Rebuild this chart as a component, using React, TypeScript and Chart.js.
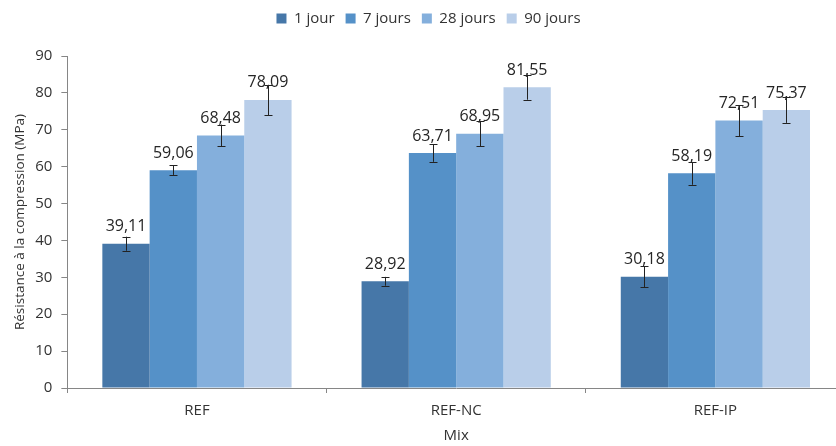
import React, { useEffect, useRef } from "react";
import { Chart, registerables } from "chart.js";

Chart.register(...registerables);

const categories = ["REF", "REF-NC", "REF-IP"];
const seriesNames = ["1 jour", "7 jours", "28 jours", "90 jours"];
const values1j = [39.11, 28.92, 30.18];
const values7j = [59.06, 63.71, 58.19];
const values28j = [68.48, 68.95, 72.51];
const values90j = [78.09, 81.55, 75.37];
const err1j = [1.9, 1.2, 2.9];
const err7j = [1.3, 2.4, 3.1];
const err28j = [2.9, 3.4, 4.2];
const err90j = [4.1, 3.4, 3.5];
const yTicks = [0, 10, 20, 30, 40, 50, 60, 70, 80, 90];
const colors = ["#4677A8", "#5591C8", "#84AFDC", "#B9CEE9"];

const FONT = "'Open Sans', 'Noto Sans', sans-serif";

const legendGapPlugin = {
  id: "legendGap",
  afterInit(chart: any) {
    const legend = chart.legend;
    if (!legend) return;
    const orig = legend.fit.bind(legend);
    legend.fit = function () {
      orig();
      this.height += 20;
    };
  },
};

const errorBarPlugin = {
  id: "errorBars",
  afterDatasetsDraw(chart: any) {
    const ctx = chart.ctx;
    const yScale = chart.scales.y;
    chart.data.datasets.forEach((ds: any, di: number) => {
      const meta = chart.getDatasetMeta(di);
      meta.data.forEach((bar: any, i: number) => {
        const v = ds.data[i];
        const e = ds.errors[i];
        const top = yScale.getPixelForValue(v + e);
        const bot = yScale.getPixelForValue(v - e);
        const x = Math.round(bar.x) + 0.5;
        ctx.save();
        ctx.strokeStyle = "#222222";
        ctx.lineWidth = 1;
        ctx.beginPath();
        ctx.moveTo(x, top);
        ctx.lineTo(x, bot);
        ctx.moveTo(x - 4, Math.round(top) + 0.5);
        ctx.lineTo(x + 4, Math.round(top) + 0.5);
        ctx.moveTo(x - 4, Math.round(bot) + 0.5);
        ctx.lineTo(x + 4, Math.round(bot) + 0.5);
        ctx.stroke();
        ctx.restore();
      });
    });
  },
};

const labelPlugin = {
  id: "valueLabels",
  afterDraw(chart: any) {
    const ctx = chart.ctx;
    chart.data.datasets.forEach((ds: any, di: number) => {
      const meta = chart.getDatasetMeta(di);
      meta.data.forEach((bar: any, i: number) => {
        const v = ds.data[i];
        ctx.save();
        ctx.font = `16px ${FONT}`;
        ctx.fillStyle = "#262626";
        ctx.textAlign = "center";
        ctx.textBaseline = "middle";
        ctx.fillText(v.toFixed(2).replace(".", ","), bar.x, bar.y - 17);
        ctx.restore();
      });
    });
  },
};

export default function App() {
  const ref = useRef<HTMLCanvasElement>(null);
  useEffect(() => {
    const seriesValues = [values1j, values7j, values28j, values90j];
    const seriesErrors = [err1j, err7j, err28j, err90j];
    const chart = new Chart(ref.current as HTMLCanvasElement, {
      type: "bar",
      data: {
        labels: categories,
        datasets: seriesNames.map((name, k) => ({
          label: name,
          data: seriesValues[k],
          errors: seriesErrors[k],
          backgroundColor: colors[k],
          borderWidth: 0,
          categoryPercentage: 0.73,
          barPercentage: 1.0,
        })) as any,
      },
      options: {
        responsive: false,
        animation: false,
        layout: { padding: { left: 12, right: 5, top: 0, bottom: 1 } },
        plugins: {
          tooltip: { enabled: false },
          legend: {
            position: "top",
            labels: {
              font: { family: FONT, size: 15 },
              color: "#333333",
              boxWidth: 10,
              boxHeight: 10,
              padding: 11,
            },
          },
        },
        scales: {
          x: {
            offset: true,
            grid: { offset: true, drawOnChartArea: false, tickLength: 5, color: "#868686" },
            border: { color: "#868686" },
            ticks: { font: { family: FONT, size: 15 }, color: "#333333", padding: 9 },
            title: {
              display: true,
              text: "Mix",
              font: { family: FONT, size: 15 },
              color: "#333333",
              padding: { top: -2, bottom: 0 },
            },
          },
          y: {
            min: 0,
            max: 90,
            afterBuildTicks(scale: any) {
              scale.ticks = yTicks.map((v) => ({ value: v }));
            },
            grid: { drawOnChartArea: false, tickLength: 6, color: "#868686" },
            border: { color: "#868686" },
            ticks: { font: { family: FONT, size: 15 }, color: "#333333", padding: 9 },
            title: {
              display: true,
              text: "Résistance à la compression (MPa)",
              font: { family: FONT, size: 13.5 },
              color: "#333333",
              padding: { top: 0, bottom: -2 },
            },
          },
        },
      },
      plugins: [legendGapPlugin, errorBarPlugin, labelPlugin],
    });
    return () => chart.destroy();
  }, []);
  return (
    <div
      style={{
        position: "fixed",
        left: 0,
        top: 0,
        width: 836,
        height: 446,
        overflow: "hidden",
        background: "#ffffff",
      }}
    >
      <canvas ref={ref} width={850} height={446} style={{ width: 850, height: 446 }} />
    </div>
  );
}
